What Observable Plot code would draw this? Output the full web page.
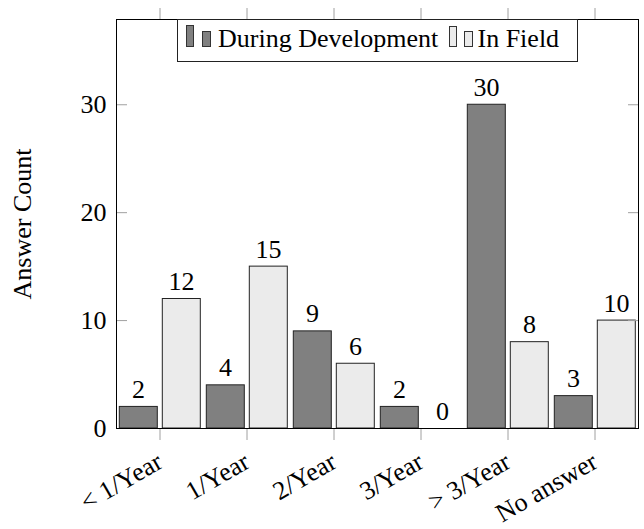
<!DOCTYPE html>
<html>
<head>
<meta charset="utf-8">
<script src="https://cdn.jsdelivr.net/npm/d3@7"></script>
<script src="https://cdn.jsdelivr.net/npm/@observablehq/plot@0.6"></script>
<style>
  html, body { margin: 0; padding: 0; background: #fff; }
  #wrap { position: relative; width: 644px; height: 529px; font-family: "Liberation Serif", "Times New Roman", serif; }
  #legend { position: absolute; left: 177px; top: 19px; width: 401px; height: 43px; border: 1px solid #222; background: #fff; box-sizing: border-box; }
  #legend .ico { position: absolute; box-sizing: border-box; border: 1px solid #333; }
  #legend .lbl { position: absolute; font-family: "Liberation Serif", serif; font-size: 26px; line-height: 26px; color: #000; white-space: nowrap; }
</style>
</head>
<body>
<div id="wrap"></div>
<script>
const categories = ["< 1/Year", "1/Year", "2/Year", "3/Year", "> 3/Year", "No answer"];
const duringDevelopment = [2, 4, 9, 2, 30, 3];
const inField = [12, 15, 6, 0, 8, 10];
const seriesNames = ["During Development", "In Field"];
const yTicks = [0, 10, 20, 30];

const dev = categories.map((c, i) => ({category: c, value: duringDevelopment[i]}));
const fld = categories.map((c, i) => ({category: c, value: inField[i]}));

const darkFill = "#808080";
const lightFill = "#ebebeb";
const barStroke = "#222";
const tickColor = "#a0a0a0";

const chart = Plot.plot({
  width: 644,
  height: 529,
  marginLeft: 116,
  marginRight: 6,
  marginTop: 19,
  marginBottom: 101,
  style: {fontFamily: "'Liberation Serif', 'Times New Roman', serif", fontSize: "26px", background: "#fff", color: "#000"},
  x: {domain: categories, padding: 0},
  y: {domain: [0, 37.9]},
  marks: [
    Plot.barY(dev, {x: "category", y: "value", fill: darkFill, stroke: barStroke, strokeWidth: 1, insetLeft: 3.3, insetRight: 45.7}),
    Plot.barY(fld, {x: "category", y: "value", fill: lightFill, stroke: barStroke, strokeWidth: 1, insetLeft: 46.3, insetRight: 2.7}),
    Plot.text(dev, {x: "category", y: "value", text: d => String(d.value), dx: -21.5, dy: -9, lineAnchor: "bottom", fontSize: 26, fill: "#000"}),
    Plot.text(fld, {x: "category", y: "value", text: d => String(d.value), dx: 21.5, dy: -9, lineAnchor: "bottom", fontSize: 26, fill: "#000"}),
    Plot.axisY({anchor: "left", ticks: yTicks, tickSize: 11, dx: 11, tickFormat: () => "", stroke: tickColor, label: null}),
    Plot.axisY({anchor: "right", ticks: yTicks, tickSize: 11, dx: -11, tickFormat: () => "", stroke: tickColor, label: null}),
    Plot.axisY({anchor: "left", ticks: yTicks, tickSize: 0, tickPadding: 10, fontSize: 26, label: "Answer Count", labelAnchor: "center", labelOffset: 104, labelArrow: "none"}),
    Plot.axisX({anchor: "top", tickSize: 12, tickFormat: () => "", stroke: tickColor, label: null}),
    Plot.axisX({anchor: "bottom", tickSize: 12, tickFormat: () => "", stroke: tickColor, label: null}),
    Plot.axisX({anchor: "bottom", tickSize: 0, tickPadding: 31, tickRotate: -30, fontSize: 26, label: null}),
    Plot.frame({stroke: "#000", strokeWidth: 1})
  ]
});

const wrap = document.getElementById("wrap");
wrap.appendChild(chart);

// Legend (pgfplots-style, inside the plot area at the top centre)
const legend = document.createElement("div");
legend.id = "legend";
const items = [
  {name: seriesNames[0], fill: darkFill, icons: [[8, 24, 8.3, 22], [23.5, 30, 9, 16]], text: 40},
  {name: seriesNames[1], fill: lightFill, icons: [[271, 24.5, 8.3, 21.5], [286, 30, 9, 16]], text: 299.5}
];
for (const it of items) {
  for (const [l, t, w, h] of it.icons) {
    const s = document.createElement("div");
    s.className = "ico";
    s.style.left = l + "px";
    s.style.top = (t - 19) + "px";
    s.style.width = w + "px";
    s.style.height = h + "px";
    s.style.background = it.fill;
    legend.appendChild(s);
  }
  const lbl = document.createElement("div");
  lbl.className = "lbl";
  lbl.style.left = it.text + "px";
  lbl.style.top = "6px";
  lbl.textContent = it.name;
  legend.appendChild(lbl);
}
wrap.appendChild(legend);
</script>
</body>
</html>
